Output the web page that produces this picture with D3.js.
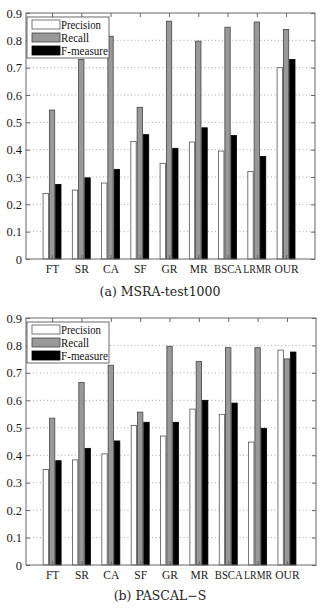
<!DOCTYPE html>
<html><head><meta charset="utf-8">
<script src="https://cdn.jsdelivr.net/npm/d3@7"></script>
<style>body{margin:0;background:#fff}svg{display:block}</style>
</head><body>
<script>
const categories = ["FT","SR","CA","SF","GR","MR","BSCA","LRMR","OUR"];
const seriesNames = ["Precision","Recall","F-measure"];
const yTicks = [0,0.1,0.2,0.3,0.4,0.5,0.6,0.7,0.8,0.9];
const msraPrecision = [0.24,0.252,0.278,0.43,0.35,0.428,0.395,0.32,0.70];
const msraRecall    = [0.545,0.73,0.815,0.555,0.87,0.797,0.848,0.867,0.84];
const msraF         = [0.273,0.297,0.328,0.455,0.405,0.48,0.452,0.375,0.73];
const pascalPrecision = [0.348,0.383,0.405,0.508,0.47,0.568,0.549,0.448,0.783];
const pascalRecall    = [0.535,0.665,0.728,0.557,0.797,0.742,0.792,0.792,0.751];
const pascalF         = [0.38,0.425,0.452,0.52,0.52,0.60,0.59,0.498,0.776];
const captions = ["(a) MSRA-test1000","(b) PASCAL\u2212S"];

const W=328,H=608;
const svg=d3.select("body").append("svg").attr("width",W).attr("height",H);
const fills=["#ffffff","#999999","#000000"];
const strokes=["#555","#444","#000"];

function panel(top,bottom,right,caption,captionY,series){
  const left=26;
  const g=svg.append("g");
  const x=d3.scaleLinear().domain([0.11,9.99]).range([left,right]);
  const y=d3.scaleLinear().domain([0,0.9]).range([bottom,top]);
  g.selectAll("line.grid").data(yTicks.slice(1,-1)).join("line")
    .attr("x1",left).attr("x2",right).attr("y1",d=>y(d)).attr("y2",d=>y(d))
    .attr("stroke","#999").attr("stroke-width",0.8).attr("stroke-dasharray","1,2.5");
  const offs=[-0.215,0,0.215], bw=0.21;
  series.forEach((vals,s)=>{
    g.selectAll("rect.s"+s).data(vals).join("rect")
      .attr("x",(d,i)=>x(i+1+offs[s]-bw/2)+0.4)
      .attr("width",x(bw)-x(0)-0.8)
      .attr("y",d=>y(d)).attr("height",d=>y(0)-y(d))
      .attr("fill",fills[s]).attr("stroke",strokes[s]).attr("stroke-width",0.8);
  });
  const yAxis=d3.axisLeft(y).tickValues(yTicks).tickFormat(d=>d===0?"0":d3.format(".1f")(d)).tickSize(-4).tickPadding(4);
  const ya=g.append("g").attr("transform",`translate(${left},0)`).call(yAxis);
  const yr=g.append("g").attr("transform",`translate(${right},0)`).call(d3.axisRight(y).tickValues(yTicks).tickSize(-4).tickFormat(""));
  const xAxis=d3.axisBottom(x).tickValues(d3.range(1,10)).tickFormat(d=>categories[d-1]).tickSize(-4).tickPadding(6);
  const xa=g.append("g").attr("transform",`translate(0,${bottom})`).call(xAxis);
  const xt=g.append("g").attr("transform",`translate(0,${top})`).call(d3.axisTop(x).tickValues(d3.range(1,10)).tickSize(-4).tickFormat(""));
  [ya,yr,xa,xt].forEach(a=>{a.select(".domain").remove();a.selectAll("line").attr("stroke","#666");
    a.selectAll("text").attr("font-family","Liberation Serif").attr("font-size","12.5px").attr("fill","#1a1a1a");});
  xa.selectAll("text").attr("font-size","11.5px").attr("textLength",d=>categories[d-1].length>3?28:null)
    .attr("lengthAdjust","spacingAndGlyphs");
  g.append("rect").attr("x",left).attr("y",top).attr("width",right-left).attr("height",bottom-top)
    .attr("fill","none").attr("stroke","#666").attr("stroke-width",1);
  const lg=g.append("g").attr("transform",`translate(${left+1},${top+4})`);
  lg.append("rect").attr("width",82).attr("height",41).attr("fill","#fff").attr("stroke","#444").attr("stroke-width",0.8);
  seriesNames.forEach((n,i)=>{
    lg.append("rect").attr("x",5).attr("y",3+i*13).attr("width",28).attr("height",9)
      .attr("fill",fills[i]).attr("stroke",strokes[i]).attr("stroke-width",0.8);
    lg.append("text").attr("x",34).attr("y",11.5+i*13).text(n)
      .attr("font-family","Liberation Serif").attr("font-size","11.5px")
      .attr("textLength",i===0?40:(i===1?28:47)).attr("lengthAdjust","spacingAndGlyphs").attr("fill","#111");
  });
  svg.append("text").attr("x",160).attr("y",captionY).attr("text-anchor","middle")
    .attr("font-family","DejaVu Serif").attr("font-size","12.5px").attr("fill","#222").text(caption);
}
panel(13,259,315,captions[0],296,[msraPrecision,msraRecall,msraF]);
panel(318,565,316,captions[1],600,[pascalPrecision,pascalRecall,pascalF]);
</script>
</body></html>
